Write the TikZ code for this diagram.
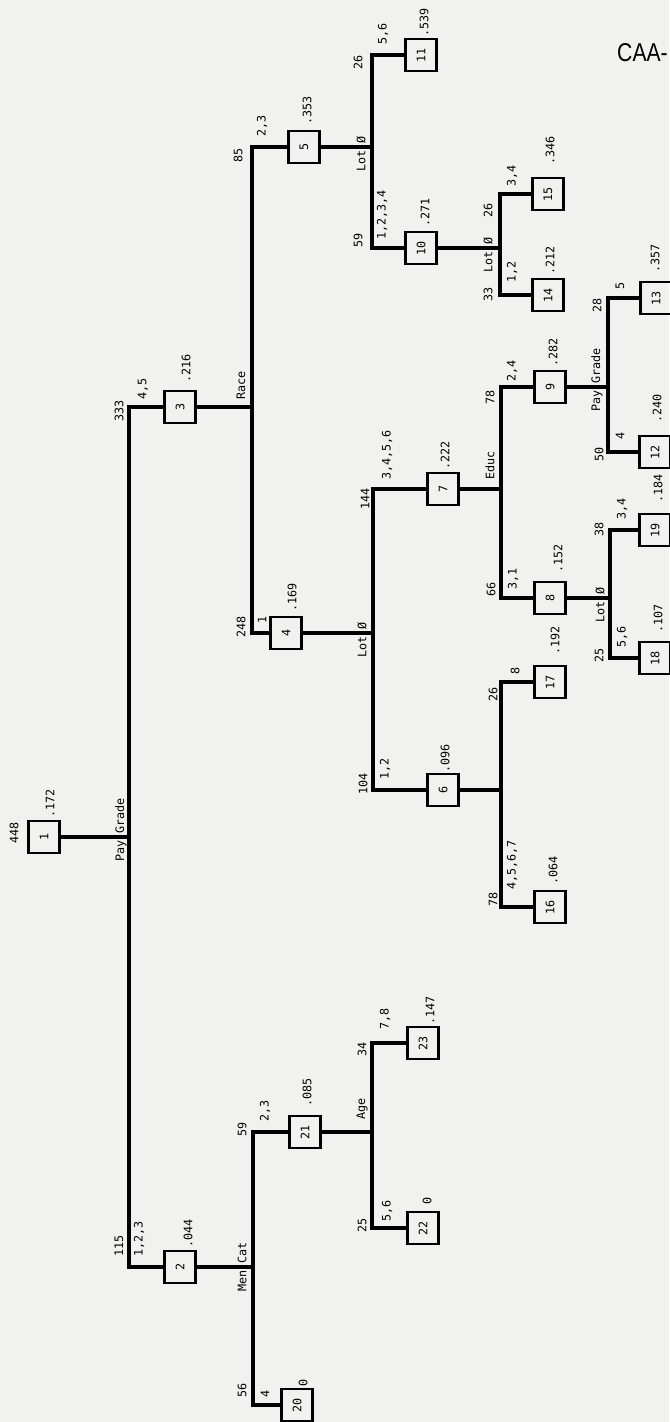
\documentclass[tikz,border=0pt]{standalone}
\usepackage{fontspec}
\setmainfont{DejaVu Sans Mono}
\newfontfamily\caafont{Liberation Sans}
\usepackage{graphicx}
\usepackage{tikz}
\usetikzlibrary{positioning}
\definecolor{paper}{RGB}{241,241,239}
\newcommand{\lblsize}{\fontsize{10}{12}\selectfont}
\tikzset{
  box/.style    ={draw, rectangle, line width=2.2pt, minimum width=0.93cm, minimum height=0.97cm, inner sep=0pt, font=\lblsize},
  lbl/.style    ={rotate=90, anchor=west, inner sep=0pt, font=\lblsize},
  branch/.style ={line width=3.2pt},
}
\begin{document}
\begin{tikzpicture}[x=0.03cm, y=-0.03cm]
  \useasboundingbox (0,0) rectangle (669,1422);
  \fill[paper] (0,0) rectangle (669,1422);
  \node[anchor=west, inner sep=0pt, font=\caafont\fontsize{22}{26}\selectfont] (caa) at (617,53) {\scalebox{0.82}[1]{CAA-}};

  \node[box] (n1)  at (44,837)   {\rotatebox{90}{1}};
  \node[box] (n2)  at (180,1267) {\rotatebox{90}{2}};
  \node[box] (n3)  at (180,407)  {\rotatebox{90}{3}};
  \node[box] (n4)  at (286,633)  {\rotatebox{90}{4}};
  \node[box] (n5)  at (304,147)  {\rotatebox{90}{5}};
  \node[box] (n6)  at (443,790)  {\rotatebox{90}{6}};
  \node[box] (n7)  at (443,489)  {\rotatebox{90}{7}};
  \node[box] (n8)  at (550,598)  {\rotatebox{90}{8}};
  \node[box] (n9)  at (550,387)  {\rotatebox{90}{9}};
  \node[box] (n10) at (421,248)  {\rotatebox{90}{10}};
  \node[box] (n11) at (421,55)   {\rotatebox{90}{11}};
  \node[box] (n12) at (655,452)  {\rotatebox{90}{12}};
  \node[box] (n13) at (656,298)  {\rotatebox{90}{13}};
  \node[box] (n14) at (548,295)  {\rotatebox{90}{14}};
  \node[box] (n15) at (548,194)  {\rotatebox{90}{15}};
  \node[box] (n16) at (550,907)  {\rotatebox{90}{16}};
  \node[box] (n17) at (550,682)  {\rotatebox{90}{17}};
  \node[box] (n18) at (655,658)  {\rotatebox{90}{18}};
  \node[box] (n19) at (655,530)  {\rotatebox{90}{19}};
  \node[box] (n20) at (297,1405) {\rotatebox{90}{20}};
  \node[box] (n21) at (305,1132) {\rotatebox{90}{21}};
  \node[box] (n22) at (423,1228) {\rotatebox{90}{22}};
  \node[box] (n23) at (423,1043) {\rotatebox{90}{23}};

  \coordinate (j1)  at (129,837);
  \coordinate (j2)  at (253,1267);
  \coordinate (j3)  at (252,407);
  \coordinate (j4)  at (373,633);
  \coordinate (j5)  at (372,147);
  \coordinate (j6)  at (501,790);
  \coordinate (j7)  at (501,489);
  \coordinate (j8)  at (610,598);
  \coordinate (j9)  at (608,387);
  \coordinate (j10) at (500,248);
  \coordinate (j21) at (372,1132);

  \draw[branch] (n1.east) -- (j1);   \draw[branch] (j1) |- (n3.west);   \draw[branch] (j1) |- (n2.west);
  \draw[branch] (n3.east) -- (j3);   \draw[branch] (j3) |- (n5.west);   \draw[branch] (j3) |- (n4.west);
  \draw[branch] (n5.east) -- (j5);   \draw[branch] (j5) |- (n11.west);  \draw[branch] (j5) |- (n10.west);
  \draw[branch] (n10.east) -- (j10); \draw[branch] (j10) |- (n15.west); \draw[branch] (j10) |- (n14.west);
  \draw[branch] (n4.east) -- (j4);   \draw[branch] (j4) |- (n7.west);   \draw[branch] (j4) |- (n6.west);
  \draw[branch] (n7.east) -- (j7);   \draw[branch] (j7) |- (n9.west);   \draw[branch] (j7) |- (n8.west);
  \draw[branch] (n9.east) -- (j9);   \draw[branch] (j9) |- (n13.west);  \draw[branch] (j9) |- (n12.west);
  \draw[branch] (n8.east) -- (j8);   \draw[branch] (j8) |- (n19.west);  \draw[branch] (j8) |- (n18.west);
  \draw[branch] (n6.east) -- (j6);   \draw[branch] (j6) |- (n17.west);  \draw[branch] (j6) |- (n16.west);
  \draw[branch] (n2.east) -- (j2);   \draw[branch] (j2) |- (n21.west);  \draw[branch] (j2) |- (n20.west);
  \draw[branch] (n21.east) -- (j21); \draw[branch] (j21) |- (n23.west); \draw[branch] (j21) |- (n22.west);

  \node[lbl] (v1) at (121,862)  {Pay Grade};
  \node[lbl] (v3) at (241,400)  {Race};
  \node[lbl] (v5) at (361,172)  {Lot Ø};
  \node[lbl] (v10) at (488,273) {Lot Ø};
  \node[lbl] (v4) at (362,658)  {Lot Ø};
  \node[lbl] (v7) at (490,480)  {Educ};
  \node[lbl] (v9) at (597,412)  {Pay Grade};
  \node[lbl] (v8) at (600,623)  {Lot Ø};
  \node[lbl] (v2) at (242,1292) {Men Cat};
  \node[lbl] (v21) at (362,1120) {Age};

  \node[lbl] (c1) at (14,844)   {448};
  \node[lbl] (c3) at (119,422)  {333};
  \node[lbl] (c2) at (119,1257) {115};
  \node[lbl] (c4) at (241,638)  {248};
  \node[lbl] (c5) at (238,163)  {85};
  \node[lbl] (c10) at (358,248) {59};
  \node[lbl] (c11) at (358,70)  {26};
  \node[lbl] (c15) at (488,218) {26};
  \node[lbl] (c14) at (488,302) {33};
  \node[lbl] (c7) at (365,510)  {144};
  \node[lbl] (c6) at (363,795)  {104};
  \node[lbl] (c9) at (490,405)  {78};
  \node[lbl] (c8) at (491,597)  {66};
  \node[lbl] (c13) at (597,313) {28};
  \node[lbl] (c12) at (599,462) {50};
  \node[lbl] (c19) at (599,537) {38};
  \node[lbl] (c18) at (599,663) {25};
  \node[lbl] (c17) at (493,702) {26};
  \node[lbl] (c16) at (493,907) {78};
  \node[lbl] (c21) at (242,1137) {59};
  \node[lbl] (c20) at (242,1398) {56};
  \node[lbl] (c23) at (362,1057) {34};
  \node[lbl] (c22) at (362,1233) {25};

  \node[lbl] (s3) at (143,400)  {4,5};
  \node[lbl] (s2) at (139,1257) {1,2,3};
  \node[lbl] (s4) at (262,624)  {1};
  \node[lbl] (s5) at (262,137)  {2,3};
  \node[lbl] (s10) at (382,240) {1,2,3,4};
  \node[lbl] (s11) at (383,45)  {5,6};
  \node[lbl] (s15) at (512,187) {3,4};
  \node[lbl] (s14) at (512,283) {1,2};
  \node[lbl] (s7) at (387,480)  {3,4,5,6};
  \node[lbl] (s6) at (385,780)  {1,2};
  \node[lbl] (s9) at (512,382)  {2,4};
  \node[lbl] (s8) at (513,590)  {3,1};
  \node[lbl] (s13) at (620,290) {5};
  \node[lbl] (s12) at (620,440) {4};
  \node[lbl] (s19) at (622,520) {3,4};
  \node[lbl] (s18) at (622,648) {5,6};
  \node[lbl] (s17) at (515,675) {8};
  \node[lbl] (s16) at (512,890) {4,5,6,7};
  \node[lbl] (s20) at (265,1398) {4};
  \node[lbl] (s21) at (265,1122) {2,3};
  \node[lbl] (s23) at (385,1030) {7,8};
  \node[lbl] (s22) at (387,1222) {5,6};

  \node[lbl] (p1) at (50,818)   {.172};
  \node[lbl] (p3) at (186,383)  {.216};
  \node[lbl] (p2) at (188,1248) {.044};
  \node[lbl] (p4) at (292,612)  {.169};
  \node[lbl] (p5) at (307,125)  {.353};
  \node[lbl] (p11) at (424,37)  {.539};
  \node[lbl] (p10) at (425,227) {.271};
  \node[lbl] (p15) at (550,165) {.346};
  \node[lbl] (p14) at (550,275) {.212};
  \node[lbl] (p7) at (445,470)  {.222};
  \node[lbl] (p6) at (445,773)  {.096};
  \node[lbl] (p9) at (553,367)  {.282};
  \node[lbl] (p8) at (558,573)  {.152};
  \node[lbl] (p13) at (655,273) {.357};
  \node[lbl] (p12) at (657,423) {.240};
  \node[lbl] (p19) at (658,503) {.184};
  \node[lbl] (p18) at (658,633) {.107};
  \node[lbl] (p17) at (555,655) {.192};
  \node[lbl] (p16) at (553,885) {.064};
  \node[lbl] (p20) at (303,1387) {0};
  \node[lbl] (p21) at (307,1107) {.085};
  \node[lbl] (p22) at (427,1205) {0};
  \node[lbl] (p23) at (430,1025) {.147};
\end{tikzpicture}
\end{document}
